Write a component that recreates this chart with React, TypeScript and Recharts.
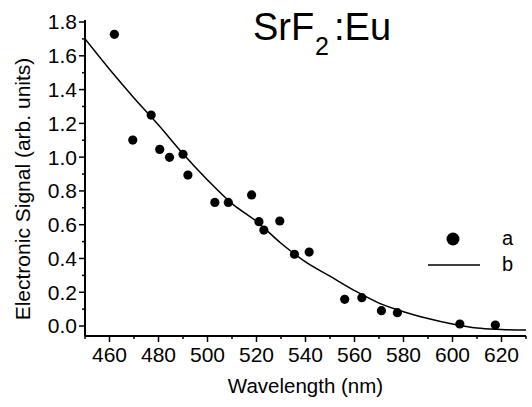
import React from "react";
import { ComposedChart, Line, Scatter, XAxis, YAxis, Label, Customized } from "recharts";

// measured points (a)
const wavelengths = [462, 469.5, 477, 480.5, 484.5, 490, 492, 503, 508.5, 518, 521, 523, 529.5, 535.5, 541.5, 556, 563, 571, 577.5, 603, 617.5];
const signal = [1.727, 1.101, 1.249, 1.046, 0.999, 1.017, 0.894, 0.732, 0.732, 0.776, 0.618, 0.568, 0.622, 0.425, 0.438, 0.158, 0.168, 0.091, 0.079, 0.012, 0.006];

// fitted curve (b)
const fitWavelengths = [450, 460, 470, 480, 490, 500, 510, 520, 530, 540, 550, 560, 570, 580, 590, 600, 610, 620, 630];
const fitSignal = [1.70, 1.52, 1.35, 1.19, 1.02, 0.865, 0.725, 0.62, 0.49, 0.38, 0.295, 0.21, 0.136, 0.085, 0.045, 0.012, -0.012, -0.02, -0.024];

const xTicks = [450, 460, 470, 480, 490, 500, 510, 520, 530, 540, 550, 560, 570, 580, 590, 600, 610, 620, 630];
const yTicks = [0, 0.1, 0.2, 0.3, 0.4, 0.5, 0.6, 0.7, 0.8, 0.9, 1.0, 1.1, 1.2, 1.3, 1.4, 1.5, 1.6, 1.7, 1.8];

const FONT = "'Liberation Sans', Arial, Helvetica, sans-serif";

const points = wavelengths.map((x, i) => ({ x, y: signal[i] }));
const fit = fitWavelengths.map((x, i) => ({ x, y: fitSignal[i] }));

const XTick = (props: any) => {
  const { x, y, payload } = props;
  const v = payload.value;
  const major = v % 20 === 0;
  return (
    <g>
      <line x1={x} x2={x} y1={y} y2={y + (major ? 6 : 3)} stroke="#000" strokeWidth={1.5} />
      {major && v > 450 && v < 630 && (
        <text x={x} y={y + 26} textAnchor="middle" fontSize={21} fontFamily={FONT} fill="#000">
          {v}
        </text>
      )}
    </g>
  );
};

const YTick = (props: any) => {
  const { x, y, payload } = props;
  const v = payload.value;
  const major = Math.round(v * 10) % 2 === 0;
  return (
    <g>
      <line x1={x - (major ? 6 : 3)} x2={x} y1={y} y2={y} stroke="#000" strokeWidth={1.5} />
      {major && (
        <text x={x - 8} y={y} dy="0.355em" textAnchor="end" fontSize={21} fontFamily={FONT} fill="#000">
          {v.toFixed(1)}
        </text>
      )}
    </g>
  );
};

const Dot = (props: any) => <circle cx={props.cx} cy={props.cy} r={4.6} fill="#000" />;

const Overlay = () => (
  <g fontFamily={FONT} fill="#000">
    <text fontSize={38}>
      <tspan x={253} y={40}>SrF</tspan>
      <tspan x={315} y={55} fontSize={25}>2</tspan>
      <tspan x={334} y={40}>:Eu</tspan>
    </text>
    <text transform="translate(30,189) rotate(-90)" textAnchor="middle" fontSize={21}>
      Electronic Signal (arb. units)
    </text>
    <circle cx={453} cy={239} r={6.5} fill="#000" />
    <text x={502} y={245} fontSize={20}>a</text>
    <line x1={428} x2={480} y1={265} y2={265} stroke="#000" strokeWidth={1.5} />
    <text x={502} y={271} fontSize={20}>b</text>
  </g>
);

export default function App() {
  return (
    <div style={{ position: "absolute", left: 0, top: 0 }}>
      <ComposedChart width={532} height={407} margin={{ top: 20, right: 6, bottom: 0, left: 0 }}>
        <XAxis
          type="number"
          dataKey="x"
          domain={[450, 630]}
          allowDataOverflow
          ticks={xTicks}
          interval={0}
          height={71}
          tickSize={0}
          tickMargin={0}
          tickLine={false}
          tick={<XTick />}
          axisLine={{ stroke: "#000", strokeWidth: 2 }}
        >
          <Label value="Wavelength (nm)" position="insideBottom" offset={14} fontSize={20.5} fontFamily={FONT} fill="#000" />
        </XAxis>
        <YAxis
          type="number"
          dataKey="y"
          domain={[-0.059, 1.812]}
          allowDataOverflow
          ticks={yTicks}
          interval={0}
          width={85}
          tickSize={0}
          tickMargin={0}
          tickLine={false}
          tick={<YTick />}
          axisLine={{ stroke: "#000", strokeWidth: 2 }}
        />
        <Line
          data={fit}
          dataKey="y"
          type="monotone"
          stroke="#000"
          strokeWidth={1.5}
          dot={false}
          activeDot={false}
          isAnimationActive={false}
        />
        <Scatter data={points} dataKey="y" shape={<Dot />} isAnimationActive={false} />
        <Customized component={Overlay} />
      </ComposedChart>
    </div>
  );
}
